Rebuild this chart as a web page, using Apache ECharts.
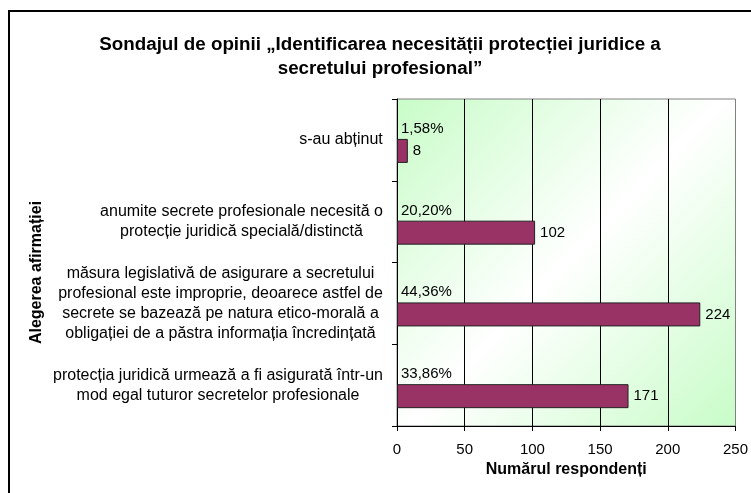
<!DOCTYPE html>
<html>
<head>
<meta charset="utf-8">
<script src="https://cdn.jsdelivr.net/npm/echarts@6/dist/echarts.min.js"></script>
<style>
  html, body { margin: 0; padding: 0; background: #fff; }
  #chart { width: 751px; height: 493px; }
</style>
</head>
<body>
<div id="chart"></div>
<script>
const categories = [
  's-au abținut',
  'anumite secrete profesionale necesită o\nprotecție juridică specială/distinctă',
  'măsura legislativă de asigurare a secretului\nprofesional este improprie, deoarece astfel de\nsecrete se bazează pe natura etico-morală a\nobligației de a păstra informația încredințată',
  'protecția juridică urmează a fi asigurată într-un\nmod egal tuturor secretelor profesionale'
];
const respondents = [8, 102, 224, 171];
const percentLabels = ['1,58%', '20,20%', '44,36%', '33,86%'];
const xTicks = [0, 50, 100, 150, 200, 250];

const chart = echarts.init(document.getElementById('chart'));
const font = 'Arial, "Liberation Sans", sans-serif';

// each category label: lines centred inside a block that is right-aligned to the axis
const ctx = document.createElement('canvas').getContext('2d');
ctx.font = '16px ' + font;
const rich = {};
categories.forEach((c, i) => {
  const w = Math.max(...c.split('\n').map(l => ctx.measureText(l).width));
  rich['c' + i] = { width: Math.ceil(w), align: 'center', fontSize: 16, lineHeight: 20, color: '#000', fontFamily: font };
});

chart.setOption({
  animation: false,
  textStyle: { fontFamily: font },
  title: {
    text: 'Sondajul de opinii „Identificarea necesității protecției juridice a\nsecretului profesional”',
    left: 375,
    textAlign: 'center',
    top: 28,
    textStyle: { fontSize: 18.8, fontWeight: 'bold', color: '#000', lineHeight: 24, fontFamily: font }
  },
  graphic: [{
    type: 'rect',
    shape: { x: 9, y: 11, width: 800, height: 600 },
    style: { fill: 'none', stroke: '#000', lineWidth: 2 },
    silent: true
  }],
  grid: {
    left: 397, top: 99, right: 13, bottom: 67,
    show: true,
    borderColor: '#808080',
    borderWidth: 1,
    backgroundColor: {
      type: 'linear', x: 0, y: 0, x2: 1, y2: 1,
      colorStops: [
        { offset: 0, color: '#c8fcc8' },
        { offset: 0.5, color: '#ffffff' },
        { offset: 1, color: '#c8fcc8' }
      ]
    }
  },
  xAxis: {
    type: 'value',
    min: xTicks[0],
    max: xTicks[xTicks.length - 1],
    interval: 50,
    name: 'Numărul respondenți',
    nameLocation: 'middle',
    nameGap: 34,
    nameTextStyle: { fontSize: 16, fontWeight: 'bold', color: '#000' },
    axisLine: { show: true, lineStyle: { color: '#000' } },
    axisTick: { show: true, length: 5, lineStyle: { color: '#000' } },
    axisLabel: { fontSize: 15, color: '#000', margin: 16 },
    splitLine: { show: true, showMinLine: false, showMaxLine: false, lineStyle: { color: '#000' } }
  },
  yAxis: {
    type: 'category',
    data: categories,
    inverse: true,
    name: 'Alegerea afirmației',
    nameLocation: 'middle',
    nameGap: 352,
    nameRotate: 90,
    nameTextStyle: { fontSize: 16, fontWeight: 'bold', color: '#000', padding: [0, 20, 0, 0] },
    axisLine: { show: true, lineStyle: { color: '#000' } },
    axisTick: { show: true, length: 5, lineStyle: { color: '#000' } },
    axisLabel: {
      fontSize: 16, color: '#000', margin: 14, lineHeight: 20, align: 'right',
      formatter: (v, i) => v.split('\n').map(l => '{c' + i + '|' + l + '}').join('\n'),
      rich
    }
  },
  series: [
    {
      name: 'procent',
      type: 'bar',
      data: respondents.map(() => 0),
      barWidth: 24,
      barGap: '-8%',
      itemStyle: { color: 'transparent' },
      label: {
        show: true, position: 'right', distance: 4,
        fontSize: 15, color: '#000',
        formatter: p => percentLabels[p.dataIndex]
      },
      silent: true
    },
    {
      name: 'respondenți',
      type: 'bar',
      data: respondents,
      barWidth: 24,
      itemStyle: { color: '#993366', borderColor: '#222', borderWidth: 1 },
      label: { show: true, position: 'right', distance: 5, fontSize: 15, color: '#000' }
    }
  ]
});
</script>
</body>
</html>
